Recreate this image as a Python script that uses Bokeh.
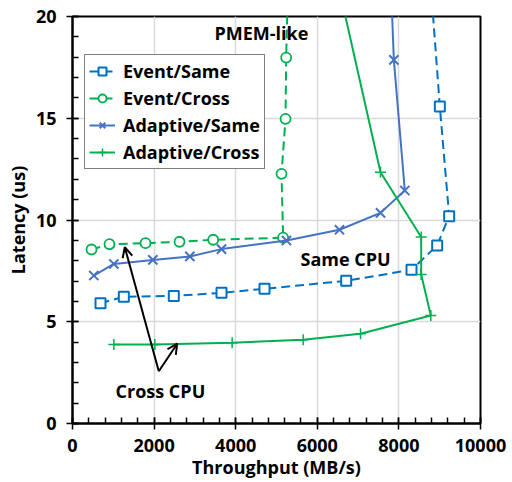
from bokeh.plotting import figure
from bokeh.models import (Range1d, SingleIntervalTicker, Arrow, OpenHead, Label,
                          Legend, LegendItem)
from bokeh.embed import file_html
from bokeh.resources import INLINE

# Throughput (MB/s) and latency (us) per configuration
event_same_x = [686, 1258, 2483, 3652, 4706, 6708, 8309, 8938, 9232, 9003, 8690]
event_same_y = [5.91, 6.23, 6.27, 6.42, 6.62, 7.01, 7.55, 8.75, 10.19, 15.58, 24.0]

event_cross_x = [466, 907, 1789, 2623, 3448, 5163, 5123, 5221, 5237, 5310]
event_cross_y = [8.55, 8.81, 8.86, 8.93, 9.03, 9.13, 12.27, 14.97, 17.98, 24.0]

adapt_same_x = [523, 1013, 1969, 2876, 3652, 5245, 6544, 7549, 8145, 7876, 7758]
adapt_same_y = [7.27, 7.84, 8.04, 8.21, 8.57, 8.99, 9.52, 10.35, 11.45, 17.87, 24.0]

adapt_cross_x = [1013, 2018, 3913, 5654, 7059, 8782, 8546, 8546, 7549, 6240]
adapt_cross_y = [3.88, 3.88, 3.97, 4.11, 4.41, 5.31, 7.32, 9.16, 12.35, 24.0]

FONT = "Open Sans"
FSIZE = "18px"

p = figure(frame_width=408, frame_height=407, output_backend="svg",
           toolbar_location=None,
           x_range=Range1d(0, 10000), y_range=Range1d(0, 20),
           min_border_left=72, min_border_right=32, min_border_top=16,
           min_border_bottom=59)
p.outline_line_color = "black"
p.outline_line_width = 2

for ax, interval in ((p.xaxis, 2000), (p.yaxis, 5)):
    ax.ticker = SingleIntervalTicker(interval=interval, num_minor_ticks=5)
    ax.axis_line_width = 2
    ax.axis_line_color = "black"
    ax.major_tick_line_width = 1.5
    ax.minor_tick_line_width = 1.5
    ax.major_tick_in = 6
    ax.major_tick_out = 6
    ax.minor_tick_in = 6
    ax.minor_tick_out = 0
    ax.major_label_text_font = FONT
    ax.major_label_text_font_style = "bold"
    ax.major_label_text_font_size = FSIZE
    ax.major_label_text_color = "black"
    ax.axis_label_text_font = FONT
    ax.axis_label_text_font_style = "bold"
    ax.axis_label_text_font_size = FSIZE
    ax.axis_label_text_color = "black"

p.xaxis.axis_label = "Throughput (MB/s)"
p.yaxis.axis_label = "Latency (us)"
p.xaxis.major_label_standoff = 9
p.yaxis.major_label_standoff = 10
p.xaxis.axis_label_standoff = 0
p.yaxis.axis_label_standoff = 3

p.xgrid.ticker = SingleIntervalTicker(interval=2000)
p.ygrid.ticker = SingleIntervalTicker(interval=5)
p.grid.grid_line_color = "#d9d9d9"
p.grid.grid_line_width = 1.5

BLUE = "#0070C0"
GREEN = "#00B050"
SLATE = "#4472C4"
DASH = "9 5"

items = []

l1 = p.line(event_same_x, event_same_y, line_color=BLUE, line_width=2, line_dash=DASH)
s1 = p.scatter(event_same_x, event_same_y, marker="square", size=10,
               line_color=BLUE, line_width=2, fill_color="white")
items.append(LegendItem(label="Event/Same", renderers=[l1, s1]))

l2 = p.line(event_cross_x, event_cross_y, line_color=GREEN, line_width=2, line_dash=DASH)
s2 = p.scatter(event_cross_x, event_cross_y, marker="circle", size=10,
               line_color=GREEN, line_width=1.8, fill_color="white")
items.append(LegendItem(label="Event/Cross", renderers=[l2, s2]))

l3 = p.line(adapt_same_x, adapt_same_y, line_color=SLATE, line_width=2)
s3 = p.scatter(adapt_same_x, adapt_same_y, marker="x", size=13,
               line_color=SLATE, line_width=2)
items.append(LegendItem(label="Adaptive/Same", renderers=[l3, s3]))

l4 = p.line(adapt_cross_x, adapt_cross_y, line_color=GREEN, line_width=2)
s4 = p.scatter(adapt_cross_x, adapt_cross_y, marker="cross", size=11,
               line_color=GREEN, line_width=1.5)
items.append(LegendItem(label="Adaptive/Cross", renderers=[l4, s4]))

legend = Legend(items=items, location=(12, 254))
legend.label_text_font = FONT
legend.label_text_font_style = "bold"
legend.label_text_font_size = FSIZE
legend.label_text_color = "black"
legend.label_height = 20
legend.glyph_height = 20
legend.glyph_width = 26
legend.label_standoff = 8
legend.spacing = 3
legend.padding = 4
legend.margin = 0
legend.border_line_color = "black"
legend.border_line_width = 1
legend.background_fill_color = "white"
legend.background_fill_alpha = 1
p.add_layout(legend, "center")

# Annotations
def note(x, y, text):
    p.add_layout(Label(x=x, y=y, text=text, text_font=FONT, text_font_style="bold",
                       text_font_size=FSIZE, text_color="black",
                       text_baseline="middle", text_align="left"))

note(3480, 19.2, "PMEM-like")
note(5588, 8.1, "Same CPU")
note(1054, 1.62, "Cross CPU")

for xe, ye in ((1282, 8.66), (2566, 3.92)):
    p.add_layout(Arrow(x_start=2115, y_start=2.57, x_end=xe, y_end=ye,
                       line_color="black", line_width=2,
                       end=OpenHead(size=10, line_color="black", line_width=2)))

open("out.html", "w").write(file_html(p, INLINE))
